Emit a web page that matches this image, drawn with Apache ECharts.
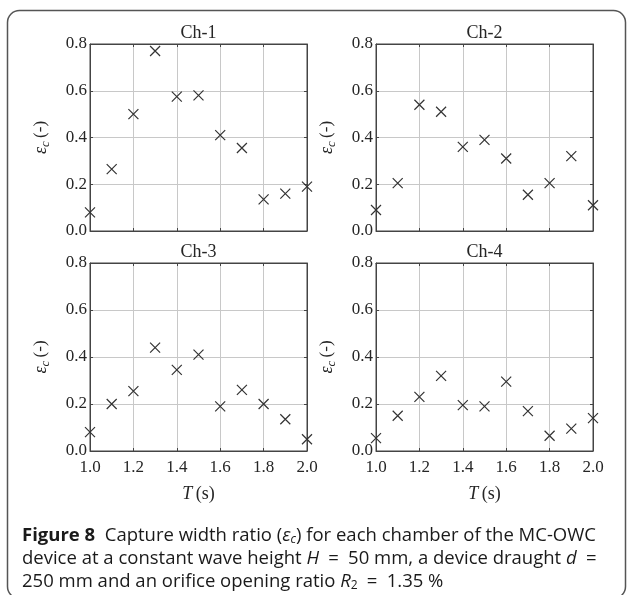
<!DOCTYPE html>
<html>
<head>
<meta charset="utf-8">
<script src="https://cdn.jsdelivr.net/npm/echarts@6/dist/echarts.min.js"></script>
<style>
  html, body { margin: 0; padding: 0; background: #fff; }
  #chart { width: 627px; height: 595px; }
</style>
</head>
<body>
<div id="chart"></div>
<script>
// Wave period T (s) for each test
const periods = [1.0, 1.1, 1.2, 1.3, 1.4, 1.5, 1.6, 1.7, 1.8, 1.9, 2.0];

// Capture width ratio per chamber
const ch1 = [0.08, 0.265, 0.50, 0.77, 0.575, 0.58, 0.41, 0.355, 0.135, 0.16, 0.19];
const ch2 = [0.09, 0.205, 0.54, 0.51, 0.36, 0.39, 0.31, 0.155, 0.205, 0.32, 0.11];
const ch3 = [0.08, 0.20, 0.255, 0.44, 0.345, 0.41, 0.19, 0.26, 0.20, 0.135, 0.05];
const ch4 = [0.055, 0.15, 0.23, 0.32, 0.195, 0.19, 0.295, 0.17, 0.065, 0.095, 0.14];

const chambers = [ch1, ch2, ch3, ch4];
const panelTitles = ['Ch-1', 'Ch-2', 'Ch-3', 'Ch-4'];

// Axis ranges
const xMin = 1.0, xMax = 2.0, xStep = 0.2;
const yMin = 0.0, yMax = 0.8, yStep = 0.2;

// Panel layout (2 x 2)
const panels = [
  { left: 90,  top: 44,  width: 217, height: 187 },
  { left: 376, top: 44,  width: 217, height: 187 },
  { left: 90,  top: 263, width: 217, height: 188 },
  { left: 376, top: 263, width: 217, height: 188 }
];

const SERIF = '"Liberation Serif", "DejaVu Serif", serif';
const SANS = '"Open Sans", "Noto Sans", sans-serif';
const INK = '#262626';
const FRAME = '#444';
const GRIDLINE = '#c8c8c8';

const grids = [], xAxes = [], yAxes = [], series = [], graphics = [];

panels.forEach((p, i) => {
  const showX = i >= 2;
  grids.push({ left: p.left, top: p.top, width: p.width, height: p.height,
               show: true, borderColor: FRAME, borderWidth: 1, containLabel: false });

  // bottom x axis
  xAxes.push({
    gridIndex: i, type: 'value', min: xMin, max: xMax, interval: xStep,
    axisLine: { show: true, onZero: false, lineStyle: { color: FRAME, width: 1 } },
    axisTick: { show: true, inside: true, length: 3, lineStyle: { color: FRAME } },
    axisLabel: { show: showX, margin: 8, color: INK, fontFamily: SERIF, fontSize: 17,
                 formatter: v => v.toFixed(1) },
    splitLine: { show: true, lineStyle: { color: GRIDLINE, width: 1 } },
    name: showX ? '{t|T} {u|(s)}' : '',
    nameLocation: 'middle', nameGap: 34,
    nameTextStyle: { rich: {
      t: { fontFamily: SERIF, fontStyle: 'italic', fontSize: 18, color: INK },
      u: { fontFamily: SERIF, fontSize: 18, color: INK }
    } }
  });
  // top x axis (ticks only)
  xAxes.push({
    gridIndex: i, type: 'value', position: 'top', min: xMin, max: xMax, interval: xStep,
    axisLine: { show: true, onZero: false, lineStyle: { color: FRAME, width: 1 } },
    axisTick: { show: true, inside: true, length: 3, lineStyle: { color: FRAME } },
    axisLabel: { show: false }, splitLine: { show: false }
  });

  // left y axis
  yAxes.push({
    gridIndex: i, type: 'value', min: yMin, max: yMax, interval: yStep,
    axisLine: { show: true, onZero: false, lineStyle: { color: FRAME, width: 1 } },
    axisTick: { show: true, inside: true, length: 3, lineStyle: { color: FRAME } },
    axisLabel: { margin: 3, color: INK, fontFamily: SERIF, fontSize: 17,
                 formatter: v => v.toFixed(1) },
    splitLine: { show: true, lineStyle: { color: GRIDLINE, width: 1 } },
    name: '{e|ε}{c|c} {n|(-)}',
    nameLocation: 'middle', nameRotate: 90, nameGap: 38,
    nameTextStyle: { rich: {
      e: { fontFamily: SERIF, fontStyle: 'italic', fontSize: 18, color: INK, lineHeight: 22 },
      c: { fontFamily: SERIF, fontStyle: 'italic', fontSize: 13, color: INK,
           verticalAlign: 'bottom', lineHeight: 12 },
      n: { fontFamily: SERIF, fontSize: 17, color: INK, lineHeight: 22 }
    } }
  });
  // right y axis (ticks only)
  yAxes.push({
    gridIndex: i, type: 'value', position: 'right', min: yMin, max: yMax, interval: yStep,
    axisLine: { show: true, onZero: false, lineStyle: { color: FRAME, width: 1 } },
    axisTick: { show: true, inside: true, length: 3, lineStyle: { color: FRAME } },
    axisLabel: { show: false }, splitLine: { show: false }
  });

  series.push({
    type: 'scatter', xAxisIndex: 2 * i, yAxisIndex: 2 * i,
    symbol: 'path://M0,0L10,10M10,0L0,10', symbolSize: 10,
    itemStyle: { color: 'transparent', borderColor: '#333', borderWidth: 1.2, opacity: 1 },
    emphasis: { disabled: true }, silent: true,
    data: periods.map((t, k) => [t, chambers[i][k]])
  });

  graphics.push({
    type: 'text', x: p.left + p.width / 2, y: p.top - 2,
    style: { text: panelTitles[i], fill: INK, font: '18px ' + SERIF,
             textAlign: 'center', textVerticalAlign: 'bottom' }
  });
});

// Rounded outer frame (its lower edge runs just past the bottom of the page)
graphics.push({
  type: 'rect', shape: { x: 7.5, y: 10.5, width: 618, height: 588, r: 12 },
  style: { fill: 'none', stroke: '#555', lineWidth: 1.5 }, z: 0
});

// Caption
const CAP = '#1a1a1a';
const capRich = {
  b: { fontFamily: SANS, fontWeight: 'bold', fontSize: 18.5, color: CAP },
  r: { fontFamily: SANS, fontSize: 18.5, color: CAP },
  i: { fontFamily: SANS, fontStyle: 'italic', fontSize: 18.5, color: CAP },
  s: { fontFamily: SANS, fontStyle: 'italic', fontSize: 12, color: CAP,
       verticalAlign: 'bottom', lineHeight: 13 },
  s2: { fontFamily: SANS, fontSize: 12, color: CAP, verticalAlign: 'bottom', lineHeight: 13 }
};
const captionLines = [
  '{b|Figure 8}{r|  Capture width ratio (}{i|ε}{s|c}{r|) for each chamber of the MC-OWC}',
  '{r|device at a constant wave height }{i|H}{r|\u2002=\u200250 mm, a device draught }{i|d}{r|\u2002=}',
  '{r|250 mm and an orifice opening ratio }{i|R}{s2|2}{r|\u2002=\u20021.35 %}'
];
const captionY = [536, 559, 582];
captionLines.forEach((txt, k) => {
  graphics.push({
    type: 'text', x: 22, y: captionY[k],
    style: { text: txt, rich: capRich, textVerticalAlign: 'middle', fill: CAP }
  });
});

const chart = echarts.init(document.getElementById('chart'), null, { renderer: 'canvas' });
chart.setOption({
  animation: false,
  backgroundColor: '#fff',
  grid: grids,
  xAxis: xAxes,
  yAxis: yAxes,
  series: series,
  graphic: graphics
});
</script>
</body>
</html>
